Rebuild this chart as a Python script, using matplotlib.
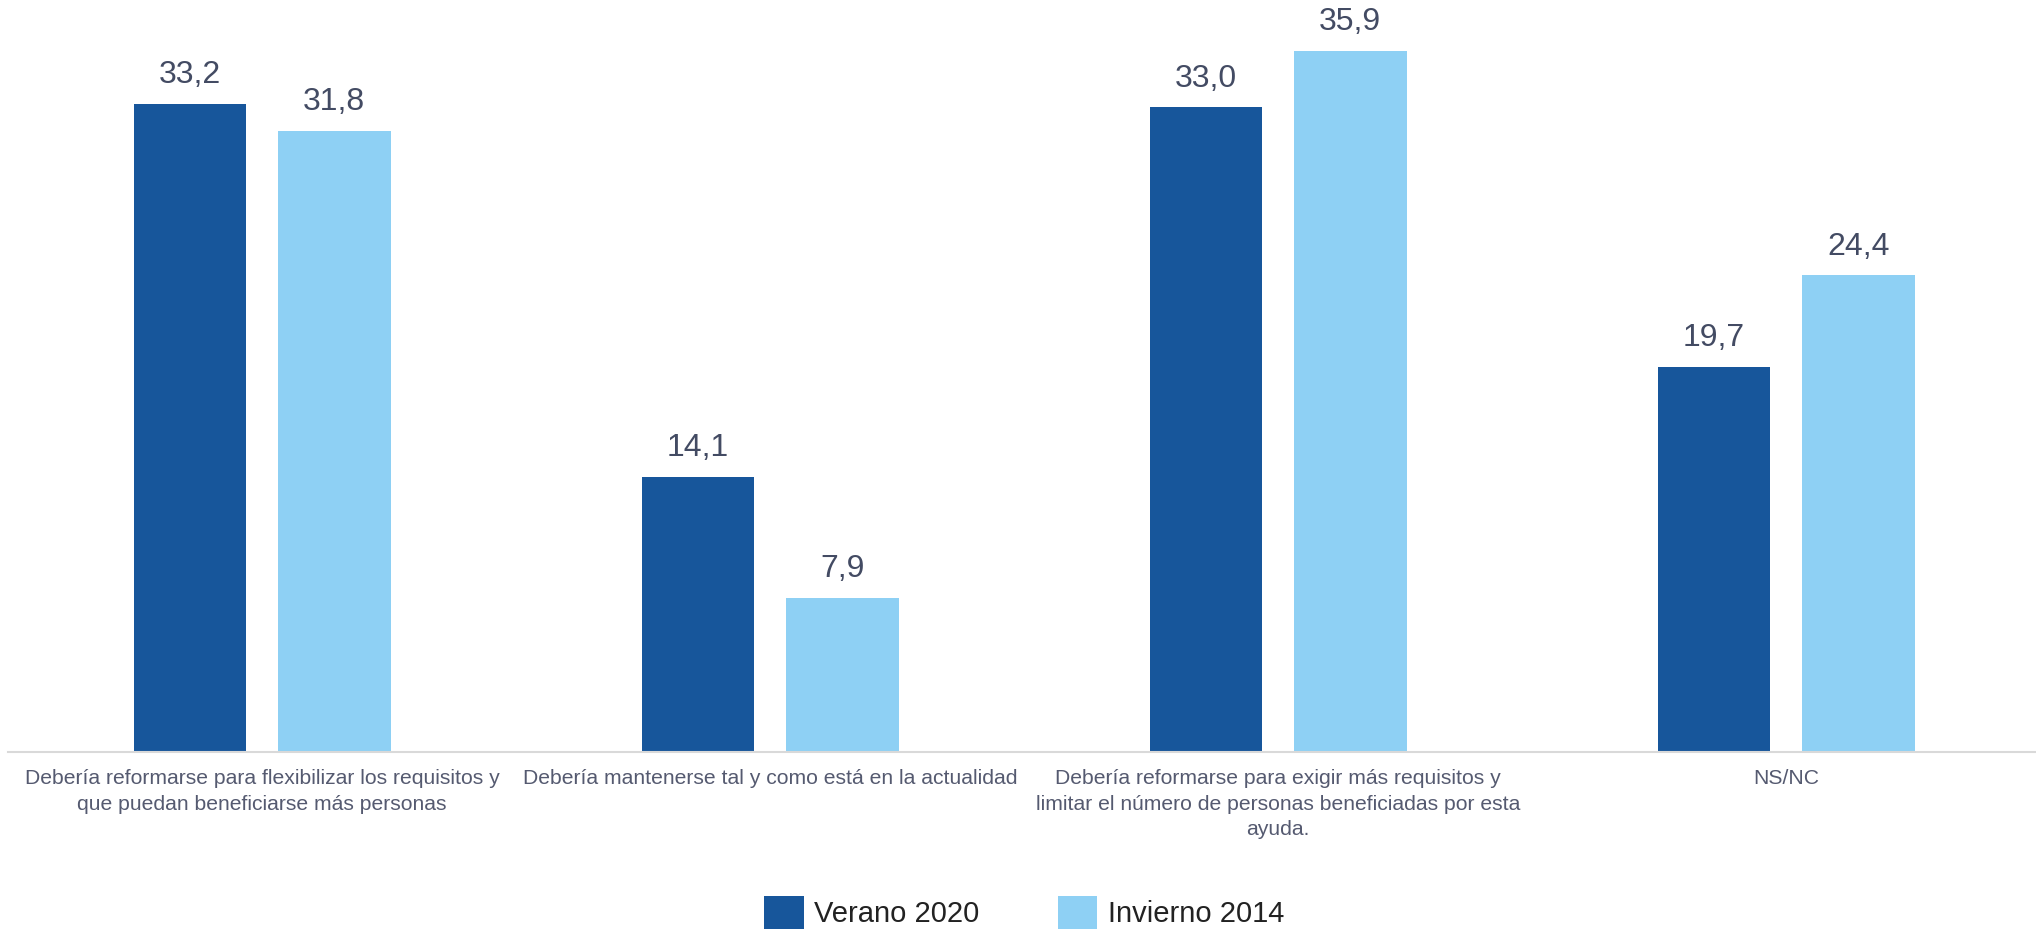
import numpy as np
import matplotlib.pyplot as plt

plt.rcParams['font.family'] = ['Liberation Sans', 'DejaVu Sans']

#============ Data ===========

categories = [
    "Debería reformarse para flexibilizar los requisitos y\nque puedan beneficiarse más personas",
    "Debería mantenerse tal y como está en la actualidad",
    "Debería reformarse para exigir más requisitos y\nlimitar el número de personas beneficiadas por esta\nayuda.",
    "NS/NC",
]
verano_2020 = [33.2, 14.1, 33.0, 19.7]
invierno_2014 = [31.8, 7.9, 35.9, 24.4]
series_names = ["Verano 2020", "Invierno 2014"]

#============ Plot ===========

fig = plt.figure(figsize=(20.36, 9.31), dpi=100)
ax = fig.add_axes([0.004, 0.192, 0.998, 0.808])

x = np.arange(len(categories))
w = 0.222
off = 0.142
b1 = ax.bar(x - off, verano_2020, w, color='#17569B', label=series_names[0])
b2 = ax.bar(x + off, invierno_2014, w, color='#8ED0F4', label=series_names[1])

for bars, vals in ((b1, verano_2020), (b2, invierno_2014)):
    ax.bar_label(bars, labels=[f"{v:.1f}".replace('.', ',') for v in vals],
                 padding=10, fontsize=23, color='#434B63')

ax.set_xlim(-0.5, 3.5)
ax.set_ylim(0, 38.5)
ax.set_yticks([])
ax.set_xticks(x)
ax.set_xticklabels(categories, fontsize=15.2, color='#555A70', linespacing=1.45)
ax.tick_params(axis='x', length=0, pad=12)

for s in ('top', 'right', 'left'):
    ax.spines[s].set_visible(False)
ax.spines['bottom'].set_color('#D9D9D9')
ax.spines['bottom'].set_linewidth(1.5)

fig.legend(loc='center', bbox_to_anchor=(0.503, 0.02), ncol=2, frameon=False,
           fontsize=21, handlelength=1.35, handleheight=1.4, handletextpad=0.35,
           columnspacing=2.7, labelcolor='#222222')

fig.savefig('out.png', dpi=100)
